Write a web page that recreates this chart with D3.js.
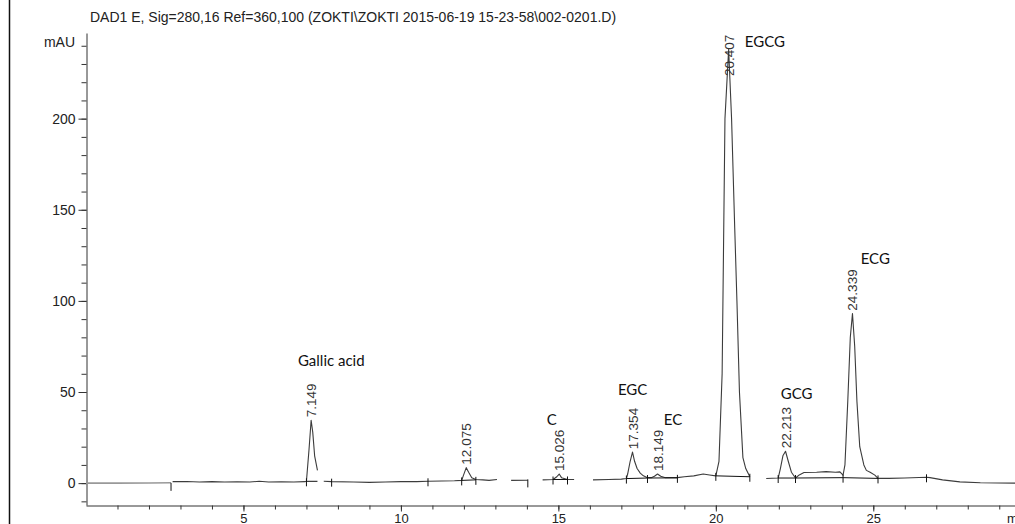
<!DOCTYPE html>
<html>
<head>
<meta charset="utf-8">
<script src="https://cdn.jsdelivr.net/npm/d3@7"></script>
<style>
  html, body { margin: 0; padding: 0; background: #fff; }
  svg { display: block; }
  .axis text { font-family: "Liberation Sans", Arial, sans-serif; font-size: 14px; fill: #222; }
  .axis path, .axis line { stroke: #333; }
  .xaxis text { font-size: 13px; }
</style>
</head>
<body>
<svg id="chart" width="1015" height="524"></svg>
<script>
// chromatogram trace, [time (min), mAU], split where the plot has gaps
const traceLead = [[0, 0], [1.0, 0], [2.0, 0.1], [2.7, 0.2]];
const traceSegments = [
  [[2.75, 0.8], [3.2, 0.9], [3.6, 0.6], [4.0, 0.8], [4.4, 0.6], [4.8, 0.7], [5.2, 0.6], [5.5, 1.0],
   [5.8, 0.6], [6.2, 0.7], [6.6, 0.6], [6.95, 0.8], [7.0, 1.0], [7.08, 18], [7.149, 34.5],
   [7.2, 28], [7.26, 15], [7.35, 7]],
  [[7.55, 1.0], [7.8, 0.8], [8.5, 0.6], [9.0, 0.4], [9.5, 0.6], [10.0, 0.8], [10.5, 0.8],
   [10.86, 1.0], [11.3, 1.2], [11.7, 1.3], [11.93, 1.5], [11.98, 4], [12.075, 8.5], [12.15, 6],
   [12.25, 3], [12.38, 2], [12.6, 1.8], [12.8, 1.5], [13.05, 2]],
  [[13.5, 1.5], [14.03, 1.6]],
  [[14.5, 1.8], [14.83, 2], [14.95, 3.5], [15.026, 5], [15.1, 3], [15.29, 2], [15.5, 2]],
  [[16.1, 1.8], [16.6, 2], [17.0, 2.2], [17.16, 2.5], [17.2, 5], [17.28, 12], [17.354, 17],
   [17.42, 12], [17.5, 8], [17.6, 5.5], [17.7, 4], [17.83, 3], [17.95, 3], [18.05, 3.8],
   [18.149, 5], [18.25, 3.8], [18.4, 3], [18.6, 3], [18.78, 3], [19.0, 3.5], [19.3, 4],
   [19.6, 5], [19.8, 4.5], [20.0, 4], [20.1, 12], [20.2, 60], [20.29, 200], [20.407, 238],
   [20.5, 200], [20.6, 140], [20.67, 100], [20.75, 50], [20.86, 14], [20.95, 8], [21.08, 3.5]],
  [[21.6, 2.5], [21.98, 2.8], [22.05, 8], [22.13, 15], [22.213, 17.5], [22.3, 12], [22.4, 6],
   [22.53, 2.8], [22.65, 4.5], [22.8, 5.8], [23.2, 6], [23.5, 6.3], [23.8, 6], [23.94, 6.2],
   [24.04, 4.4], [24.1, 10], [24.19, 45], [24.27, 80], [24.339, 93], [24.41, 75], [24.48, 45],
   [24.57, 20], [24.7, 10], [24.78, 7], [24.9, 6], [25.05, 4.4], [25.15, 2.6], [25.5, 2.6],
   [26.0, 2.8], [26.69, 3.2], [26.8, 3.0], [27.2, 1.8], [27.75, 0.7], [28.4, 0.2], [29.5, 0]]
];

// integration baselines [t1, v1, t2, v2] and event ticks [t, v]
const integrationBaselines = [
  [7.0, 1.0, 7.35, 1.0], [11.93, 1.5, 12.38, 1.8], [14.83, 2, 15.29, 2], [17.16, 2.5, 17.83, 2.8],
  [17.83, 2.8, 18.78, 2.9], [20.0, 4, 21.08, 3.5], [21.98, 2.8, 22.53, 2.8],
  [22.53, 2.8, 24.04, 3.0], [24.04, 3.0, 25.15, 2.6]
];
const eventTicks = [
  [2.7, -1.5], [7.0, 1.0], [7.8, 0.8], [10.86, 1.0], [11.93, 1.5], [12.38, 1.8], [14.03, 0.4],
  [14.83, 2], [15.29, 2], [17.16, 2.5], [17.83, 2.8], [18.78, 2.9], [20.0, 4], [21.08, 3.5],
  [21.98, 2.8], [22.53, 2.8], [24.04, 3.0], [25.15, 2.6], [26.69, 3.2]
];

// peak retention times and apex heights
const peakTimes = [7.149, 12.075, 15.026, 17.354, 18.149, 20.407, 22.213, 24.339];
const peakHeights = [34.5, 8.5, 5, 17, 5, 238, 17.5, 93];

// compound names with their anchor (time, mAU)
const compoundNames = ["Gallic acid", "C", "EGC", "EC", "EGCG", "GCG", "ECG"];
const compoundAt = [[6.73, 67], [14.63, 34.6], [16.89, 51], [18.35, 34.6], [20.92, 242], [22.06, 49], [24.6, 123]];

const yMajor = [0, 50, 100, 150, 200];
const xMajor = [5, 10, 15, 20, 25];

const title = "DAD1 E, Sig=280,16 Ref=360,100 (ZOKTI\\ZOKTI 2015-06-19 15-23-58\\002-0201.D)";

const svg = d3.select("#chart");
const x = d3.scaleLinear().domain([0, 29.5]).range([86, 1015]);
const y = d3.scaleLinear().domain([-12, 247]).range([505, 33]);

// left frame line
svg.append("line").attr("x1", 9.5).attr("x2", 9.5).attr("y1", 0).attr("y2", 524)
  .attr("stroke", "#111").attr("stroke-width", 1.5);

svg.append("text").attr("x", 90).attr("y", 22).text(title)
  .attr("font-family", "Liberation Sans, Arial, sans-serif").attr("font-size", 14).attr("fill", "#222");

// y axis
svg.append("g").attr("class", "axis").attr("transform", "translate(86.5,0)")
  .call(d3.axisLeft(y).tickValues(d3.range(-10, 250, 10)).tickSize(5).tickSizeOuter(0).tickFormat(""));
svg.append("g").attr("class", "axis").attr("transform", "translate(86.5,0)")
  .call(d3.axisLeft(y).tickValues(yMajor).tickSize(8).tickSizeOuter(0).tickPadding(3))
  .select(".domain").remove();
svg.append("text").attr("x", 75).attr("y", y(240)).attr("dy", "0.1em").attr("text-anchor", "end")
  .attr("font-family", "Liberation Sans, Arial, sans-serif").attr("font-size", 14).attr("fill", "#222")
  .text("mAU");

// x axis
svg.append("g").attr("class", "axis").attr("transform", "translate(0,505.5)")
  .call(d3.axisBottom(x).tickValues(d3.range(1, 30, 1)).tickSize(4).tickSizeOuter(0).tickFormat(""));
svg.append("g").attr("class", "axis xaxis").attr("transform", "translate(0,505.5)")
  .call(d3.axisBottom(x).tickValues(xMajor).tickSize(6).tickSizeOuter(0).tickPadding(2))
  .select(".domain").remove();
svg.append("text").attr("x", 1007).attr("y", 513.5).attr("dy", "0.71em")
  .attr("font-family", "Liberation Sans, Arial, sans-serif").attr("font-size", 13).attr("fill", "#222")
  .text("min");

const line = d3.line().x(d => x(d[0])).y(d => y(d[1]));

svg.append("path").datum(traceLead).attr("d", line)
  .attr("fill", "none").attr("stroke", "#999").attr("stroke-width", 1.6);
svg.selectAll(".trace").data(traceSegments).join("path").attr("class", "trace")
  .attr("d", line).attr("fill", "none").attr("stroke", "#3c3c3c").attr("stroke-width", 1.1)
  .attr("stroke-linejoin", "round");

svg.selectAll(".base").data(integrationBaselines).join("line").attr("class", "base")
  .attr("x1", d => x(d[0])).attr("y1", d => y(d[1])).attr("x2", d => x(d[2])).attr("y2", d => y(d[3]))
  .attr("stroke", "#111").attr("stroke-width", 1);
svg.selectAll(".evt").data(eventTicks).join("line").attr("class", "evt")
  .attr("x1", d => x(d[0])).attr("x2", d => x(d[0]))
  .attr("y1", d => y(d[1]) - 3).attr("y2", d => y(d[1]) + 5)
  .attr("stroke", "#111").attr("stroke-width", 1);

// retention time labels, rotated
const rtFont = 13.5;
svg.selectAll(".rt").data(peakTimes).join("text").attr("class", "rt")
  .each(function (t, i) {
    const label = t.toFixed(3);
    const len = label.length * rtFont * 0.53;
    let yy = y(peakHeights[i]) - 3;
    if (yy - len < 33) yy = 33 + len;
    d3.select(this)
      .attr("transform", `translate(${x(t) + 5},${yy}) rotate(-90)`)
      .text(label);
  })
  .attr("font-family", "Liberation Sans, Arial, sans-serif").attr("font-size", rtFont)
  .attr("fill", "#333");

// compound names
svg.selectAll(".cmp").data(compoundNames).join("text").attr("class", "cmp")
  .attr("x", (d, i) => x(compoundAt[i][0])).attr("y", (d, i) => y(compoundAt[i][1]))
  .attr("dy", "0.35em")
  .attr("font-family", "Lato, 'Open Sans', sans-serif").attr("font-size", 15).attr("fill", "#111")
  .text(d => d);
</script>
</body>
</html>
